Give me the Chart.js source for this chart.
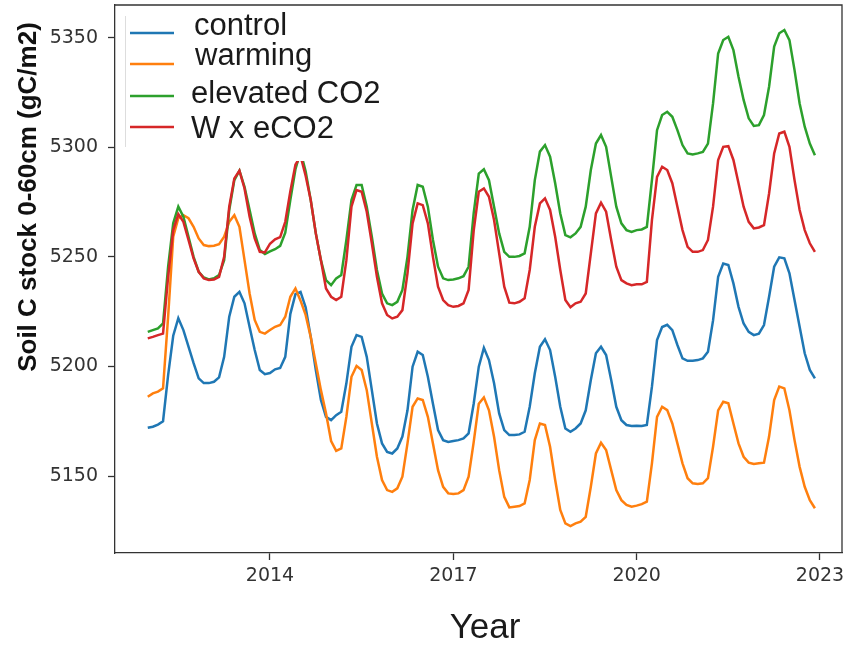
<!DOCTYPE html>
<html>
<head>
<meta charset="utf-8">
<script src="https://cdn.jsdelivr.net/npm/chart.js@4.4.1/dist/chart.umd.min.js"></script>
<style>
  body { margin: 0; background: #fff; }
  canvas { display: block; }
</style>
</head>
<body>
<canvas id="myChart" width="847" height="646"></canvas>
<script>
// monthly values, Jan 2012 .. Dec 2022
const startYear = 2012
const seriesNames = ['control', 'warming', 'elevated CO2', 'W x eCO2']

const control = [
  5172, 5172.5, 5173.5, 5175, 5196, 5214, 5222, 5216.6, 5209, 5201.5, 5194.6, 5192.4,
  5192.4, 5193, 5195, 5204.4, 5222.7, 5231.8, 5234, 5228.8, 5218, 5207.5, 5198.4, 5196.5,
  5197, 5198.7, 5199.3, 5204.4, 5224, 5233, 5234, 5227, 5213.5, 5198.4, 5184.7, 5177,
  5175.5, 5177.8, 5179.3, 5192.3, 5209, 5214.3, 5213.5, 5204.4, 5189.2, 5174, 5164.9, 5161,
  5160.3, 5162.6, 5168, 5180, 5199.9, 5206.7, 5205.2, 5195.3, 5183, 5171, 5166.4, 5165.6,
  5166, 5166.4, 5167.2, 5169.5, 5183, 5199.9, 5208.5, 5202.9, 5192.3, 5178.6, 5171, 5168.7,
  5168.7, 5169, 5170.2, 5181.6, 5196.9, 5209, 5212.4, 5207.5, 5195.3, 5181.6, 5171.7, 5170.2,
  5171.7, 5174, 5180, 5193.8, 5206, 5209, 5205.2, 5193.8, 5181.6, 5175.5, 5173.3, 5172.8,
  5173, 5172.8, 5173.3, 5190.8, 5212, 5218, 5219, 5216.6, 5209.8, 5203.7, 5202.6, 5202.6,
  5202.9, 5203.7, 5206.7, 5221, 5240.9, 5247, 5246.3, 5237.9, 5227.2, 5219.6, 5215.8, 5214.3,
  5215, 5218.9, 5231.8, 5245.5, 5249.8, 5249.3, 5242.5, 5230.3, 5218.1, 5206, 5198.4, 5194.6
]

const warming = [
  5186.2, 5187.7, 5188.5, 5190, 5222.7, 5259.2, 5267.6, 5269, 5267.6, 5263.7, 5258.4, 5255.4,
  5254.9, 5255.1, 5255.8, 5259.2, 5266, 5269, 5263.7, 5248.5, 5233.3, 5221.2, 5215.8, 5215,
  5216.6, 5218.1, 5218.9, 5222.7, 5231.8, 5235.6, 5230, 5223.5, 5213.5, 5201.4, 5189.2, 5178.6,
  5166, 5161.5, 5162.6, 5177, 5195.3, 5200.2, 5198.4, 5189.2, 5174, 5158.8, 5148.2, 5143.6,
  5142.8, 5144.4, 5149.7, 5164.9, 5181.6, 5185.4, 5184.7, 5177, 5164.9, 5152.7, 5145.1, 5142.1,
  5141.8, 5142.1, 5143.6, 5149.7, 5165.5, 5183, 5185.9, 5180, 5167.9, 5152.7, 5140.5, 5135.7,
  5136, 5136.3, 5137.5, 5148.2, 5166.4, 5174, 5173.3, 5163.4, 5148.2, 5134.5, 5128.4, 5127.2,
  5128.4, 5129.2, 5131.4, 5145.1, 5160.3, 5165.2, 5161.9, 5152.7, 5143.6, 5139, 5136.8, 5136,
  5136.5, 5137.2, 5138.3, 5155.8, 5177, 5181.6, 5180.1, 5174, 5164.9, 5155.8, 5149, 5146.7,
  5146.4, 5146.7, 5149, 5163.4, 5180, 5183.9, 5183.2, 5174, 5164.9, 5158.8, 5156.1, 5155.5,
  5155.8, 5156.1, 5168, 5184.7, 5190.8, 5190, 5180, 5166.4, 5154.2, 5145.1, 5139, 5135.3
]

const elevatedCO2 = [
  5215.8, 5216.6, 5217.4, 5219.6, 5245.5, 5265.3, 5272.9, 5268.3, 5259.2, 5250, 5243.2, 5240.6,
  5239.7, 5240.2, 5241.7, 5248.5, 5271.4, 5285, 5289.3, 5282, 5271.4, 5260.7, 5253.1, 5251.3,
  5252.5, 5253.5, 5255, 5261, 5276, 5290, 5298, 5289, 5275.9, 5260.7, 5248.5, 5239.4,
  5237.1, 5240.2, 5241.7, 5257.7, 5275.9, 5282.8, 5282.8, 5272.9, 5259.2, 5244, 5233.3, 5228.8,
  5228, 5229.5, 5234.9, 5250, 5271.4, 5282.8, 5282, 5272.9, 5257.7, 5245.5, 5240.2, 5239.4,
  5239.7, 5240.2, 5241.2, 5245.5, 5270, 5288, 5290, 5285, 5272.9, 5260.7, 5252.3, 5250,
  5250, 5250.4, 5251.6, 5263.7, 5285, 5298, 5301, 5295.7, 5283.6, 5269.8, 5259.9, 5258.9,
  5260.7, 5263.7, 5272.9, 5289.6, 5301.7, 5305.6, 5300.2, 5286.5, 5272.9, 5265.3, 5262.2, 5261.4,
  5262.2, 5262.5, 5263.7, 5285, 5307.8, 5314.7, 5316.2, 5313.9, 5307.8, 5301, 5297.2, 5296.7,
  5297.2, 5297.9, 5301.7, 5320, 5342.8, 5348.9, 5350.4, 5344.3, 5332.2, 5321.6, 5313.2, 5309.7,
  5310.1, 5314.7, 5327.6, 5345.9, 5352, 5353.5, 5348.9, 5335.2, 5320, 5309.4, 5301.7, 5296.4
]

const wXeCO2 = [
  5212.8, 5213.5, 5214.3, 5215, 5240.9, 5262.2, 5269.5, 5266, 5257.7, 5249.3, 5243.2, 5240.2,
  5239.4, 5239.7, 5240.9, 5250, 5272.9, 5285.8, 5289.3, 5281.2, 5268.3, 5258.4, 5252.3, 5252,
  5256, 5258, 5259, 5266, 5280, 5292, 5296, 5287, 5275.9, 5260.7, 5248.5, 5235.6,
  5231.8, 5230.3, 5231.8, 5248.5, 5272.9, 5280.5, 5279.7, 5270.6, 5256.2, 5240.9, 5228.8, 5223.5,
  5221.9, 5222.7, 5225.7, 5242.5, 5265.3, 5274.4, 5273.6, 5265.3, 5250, 5236.4, 5230.3, 5228,
  5227.2, 5227.6, 5228.8, 5234.9, 5262, 5279.7, 5281.2, 5277.4, 5266.8, 5251.6, 5236.4, 5229.1,
  5228.8, 5229.5, 5231.1, 5244, 5263.7, 5274.4, 5276.7, 5271.4, 5259.2, 5244, 5230.3, 5227,
  5228.8, 5229.5, 5233.3, 5251.6, 5269.8, 5274.7, 5270.6, 5257.7, 5245.5, 5239.4, 5237.9, 5237.1,
  5237.5, 5237.5, 5238.6, 5266.8, 5286.5, 5291.1, 5289.6, 5283.6, 5272.9, 5262.2, 5254.6, 5252.3,
  5252.3, 5253.1, 5257.7, 5272.9, 5294.2, 5300.2, 5300.5, 5294.2, 5283.6, 5272.9, 5266, 5263,
  5263.4, 5264.5, 5278.9, 5297.2, 5306.3, 5307.1, 5300.2, 5285, 5271.4, 5262.2, 5256.2, 5252.3
]

const yearTicks = [2014, 2017, 2020, 2023]
const valueTicks = [5150, 5200, 5250, 5300, 5350]
const colors = ['#1f77b4', '#ff7f0e', '#2ca02c', '#d62728']

function toPoints (values) {
  return values.map((v, i) => ({ x: startYear + i / 12, y: v }))
}

const allSeries = [control, warming, elevatedCO2, wXeCO2]

// white legend box drawn over the lines, like matplotlib
const legendBox = {
  id: 'legendBox',
  afterDatasetsDraw (chart) {
    const c = chart.ctx
    c.save()
    c.fillStyle = '#fff'
    c.fillRect(121, 6, 272, 155)
    c.strokeStyle = '#ddd'
    c.lineWidth = 1
    c.beginPath()
    c.moveTo(125.5, 16)
    c.lineTo(125.5, 147)
    c.stroke()
    const lineY = [33, 64, 96, 127]
    const textY = [35, 65, 103, 138]
    const textX = [194, 195, 191, 191]
    c.font = '31px "Liberation Sans", Arial, sans-serif'
    c.textBaseline = 'alphabetic'
    c.textAlign = 'left'
    chart.data.datasets.forEach((ds, i) => {
      c.strokeStyle = ds.borderColor
      c.lineWidth = 2.5
      c.beginPath()
      c.moveTo(130, lineY[i])
      c.lineTo(174, lineY[i])
      c.stroke()
      c.fillStyle = '#1a1a1a'
      c.fillText(ds.label, textX[i], textY[i])
    })
    c.restore()
  },
  afterDraw (chart) {
    const c = chart.ctx
    const a = chart.chartArea
    c.save()
    c.strokeStyle = '#333'
    c.lineWidth = 1.3
    c.beginPath()
    c.moveTo(a.left, a.top)
    c.lineTo(a.right, a.top)
    c.lineTo(a.right, a.bottom)
    c.stroke()
    // axis titles
    c.fillStyle = '#1a1a1a'
    c.font = '35px "Liberation Sans", Arial, sans-serif'
    c.textAlign = 'center'
    c.textBaseline = 'middle'
    c.fillText('Year', 485, 628)
    c.translate(29, 197)
    c.rotate(-Math.PI / 2)
    c.font = 'bold 26px "Liberation Sans", Arial, sans-serif'
    c.fillStyle = '#111'
    c.fillText('Soil C stock 0-60cm (gC/m2)', 0, 0)
    c.restore()
  }
}

const ctx = document.getElementById('myChart')
const myChart = new Chart(ctx, {
  type: 'line',
  data: {
    datasets: allSeries.map((vals, i) => ({
      label: seriesNames[i],
      data: toPoints(vals),
      borderColor: colors[i],
      backgroundColor: colors[i],
      borderWidth: 2.5,
      pointRadius: 0,
      tension: 0,
      fill: false,
      order: 4 - i
    }))
  },
  options: {
    responsive: false,
    animation: false,
    devicePixelRatio: 1,
    layout: { padding: { top: 5, right: 5, left: 0, bottom: 0 } },
    plugins: {
      legend: { display: false },
      tooltip: { enabled: false }
    },
    scales: {
      x: {
        type: 'linear',
        min: 2011.464,
        max: 2023.36,
        afterBuildTicks (scale) { scale.ticks = yearTicks.map(v => ({ value: v })) },
        afterFit (scale) {
          scale.height = 93
          scale.paddingLeft = 0
          scale.paddingRight = 0
        },
        grid: { display: true, drawOnChartArea: false, drawTicks: true, tickLength: 7, tickColor: '#333', tickWidth: 1.3 },
        border: { display: true, color: '#333', width: 1.3 },
        ticks: {
          padding: 5,
          maxRotation: 0,
          color: '#333',
          font: { family: '"DejaVu Sans", sans-serif', size: 19 },
          callback: v => String(v)
        }
      },
      y: {
        min: 5114.9,
        max: 5364.9,
        afterBuildTicks (scale) { scale.ticks = valueTicks.map(v => ({ value: v })) },
        afterFit (scale) {
          scale.width = 115
          scale.paddingTop = 0
          scale.paddingBottom = 0
        },
        grid: { display: true, drawOnChartArea: false, drawTicks: true, tickLength: 7, tickColor: '#333', tickWidth: 1.3 },
        border: { display: true, color: '#333', width: 1.3 },
        ticks: {
          padding: 10,
          color: '#333',
          font: { family: '"DejaVu Sans", sans-serif', size: 19 },
          callback: v => String(v)
        }
      }
    }
  },
  plugins: [legendBox]
})
</script>
</body>
</html>
